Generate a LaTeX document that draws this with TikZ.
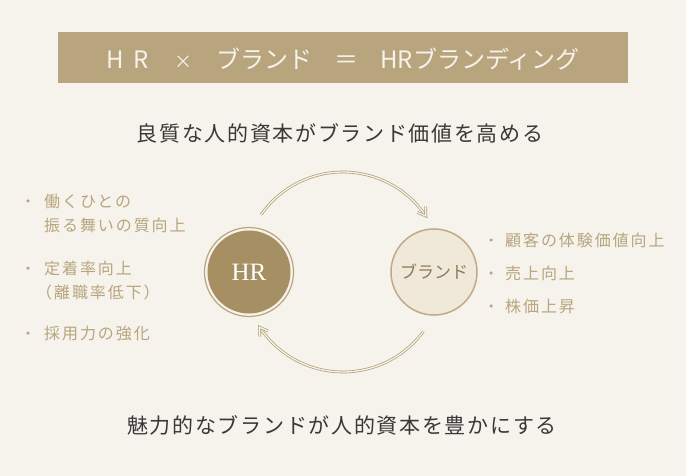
\documentclass[tikz,border=0pt]{standalone}
\usepackage{fontspec}
\setmainfont{Noto Sans CJK JP}
\newfontfamily\jpls[LetterSpace=12]{Noto Sans CJK JP}
\newfontfamily\jphead[LetterSpace=8]{Noto Sans CJK JP}
\newfontfamily\hrserif{Liberation Serif}
\usetikzlibrary{decorations.markings}
\definecolor{bg}{HTML}{F6F3EC}
\definecolor{tan}{HTML}{B8A57E}
\definecolor{arcc}{HTML}{B09A70}
\definecolor{hrfill}{HTML}{A68F63}
\definecolor{brfill}{HTML}{F0E8D9}
\definecolor{brline}{HTML}{C0AC84}
\definecolor{brtext}{HTML}{8C7B5A}
\definecolor{ink}{HTML}{383838}
\tikzset{
  dbl/.style={draw=arcc, line width=0.7pt, double=bg, double distance=1.3pt},
  chevron/.style={dbl, postaction={decorate}, decoration={markings,
     mark=at position 1 with {\draw[dbl, line join=miter] (-8pt,5pt) -- (0,0) -- (-8pt,-5pt);}}},
  listtext/.style={anchor=west, inner sep=0pt, text=tan, font=\fontsize{16}{18}\jpls},
  bulletdot/.style={circle, fill=tan, inner sep=0pt, minimum size=3.5pt},
  headline/.style={inner sep=0pt, text=ink, font=\fontsize{21}{23}\jphead},
}
\begin{document}
\begin{tikzpicture}[x=1pt,y=-1pt]
\fill[bg] (0,0) rectangle (686,476);
\useasboundingbox (0,0) rectangle (686,476);
% banner
\node[fill=tan, minimum width=570pt, minimum height=51pt, inner sep=0pt] (banner) at (343,57.5) {};
\node[text=bg, font=\fontsize{24}{26}\selectfont, inner sep=0pt] (title) at (343,59)
  {H\hspace{9pt}R\hspace{26pt}{\fontsize{18}{20}\selectfont ×}\hspace{24pt}ブランド\hspace{22pt}＝\hspace{22pt}HRブランディング};
% headlines
\node[headline] (top) at (340,133) {良質な人的資本がブランド価値を高める};
\node[headline] (bottom) at (342,425) {魅力的なブランドが人的資本を豊かにする};
% circles
\node[circle, draw=tan, line width=1.2pt, minimum size=89pt, inner sep=0pt] (hrring) at (249,272) {};
\node[circle, fill=hrfill, minimum size=83pt, inner sep=0pt, text=white,
      font=\fontsize{25}{27}\hrserif] (hr) at (249,272) {HR};
\node[circle, fill=brfill, draw=brline, line width=1.5pt, minimum size=86pt, inner sep=0pt,
      text=brtext, font=\fontsize{17}{19}\selectfont] (brand) at (434,272) {ブランド};
% arcs
\coordinate (c) at (343,272);
\draw[chevron] (c) ++(-145:100) arc[start angle=-145, end angle=-34, radius=100];
\draw[chevron] (c) ++(36.5:100) arc[start angle=36.5, end angle=146.5, radius=100];
% left list
\node[bulletdot] (lb1) at (28,201) {};
\node[listtext] (l1a) at (44,201) {働くひとの};
\node[listtext] (l1b) at (44,225) {振る舞いの質向上};
\node[bulletdot] (lb2) at (28,268) {};
\node[listtext] (l2a) at (44,268) {定着率向上};
\node[listtext] (l2b) at (36,292) {（離職率低下）};
\node[bulletdot] (lb3) at (28,333) {};
\node[listtext] (l3) at (44,333) {採用力の強化};
% right list
\node[bulletdot] (rb1) at (491,240) {};
\node[listtext] (r1) at (505,240) {顧客の体験価値向上};
\node[bulletdot] (rb2) at (491,273) {};
\node[listtext] (r2) at (505,273) {売上向上};
\node[bulletdot] (rb3) at (491,306) {};
\node[listtext] (r3) at (505,306) {株価上昇};
\end{tikzpicture}
\end{document}
